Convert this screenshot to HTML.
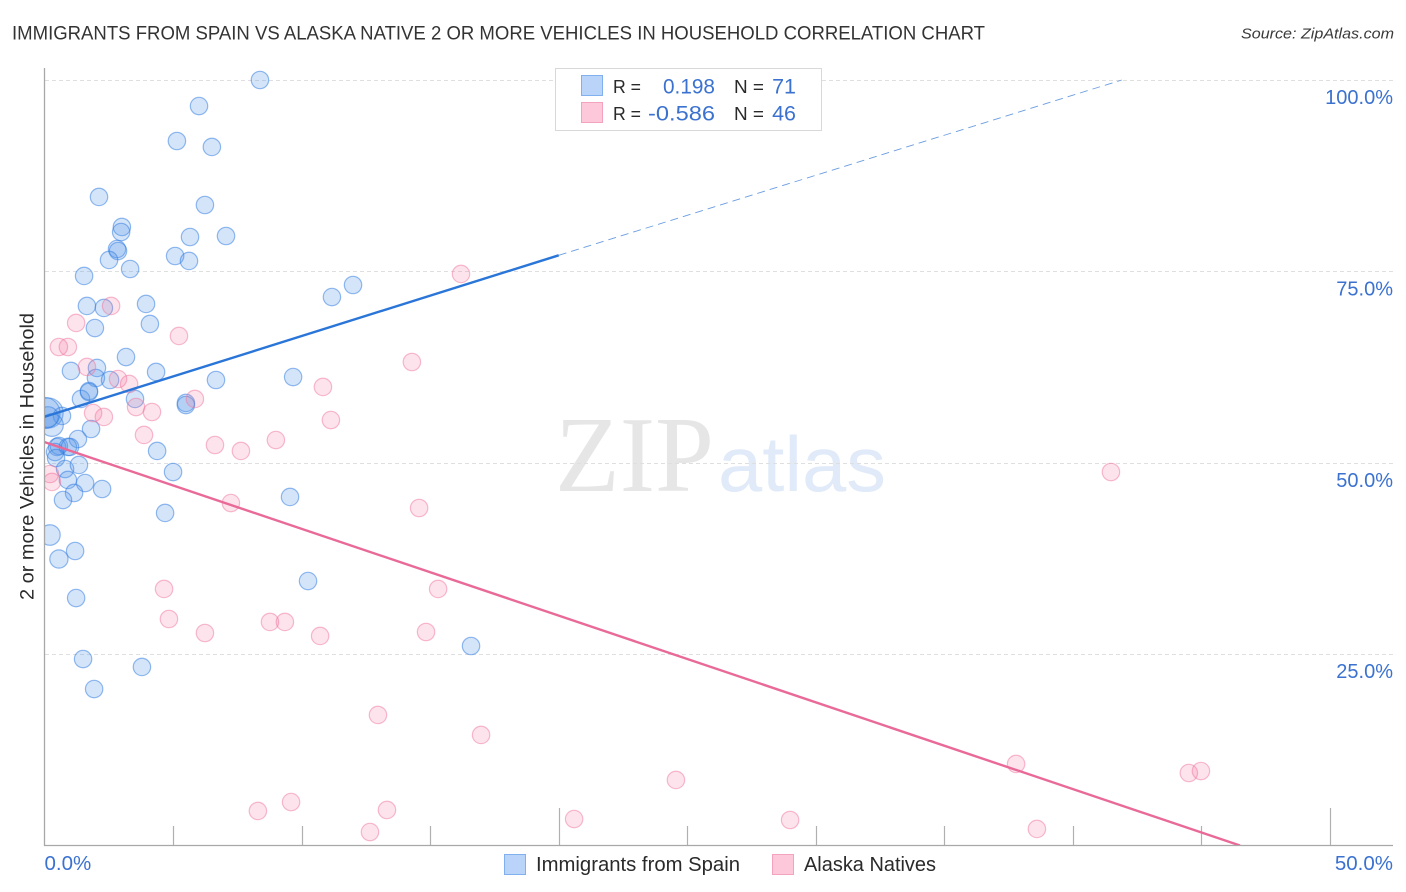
<!DOCTYPE html>
<html lang="en">
<head>
<meta charset="utf-8">
<title>Immigrants from Spain vs Alaska Native 2 or more Vehicles in Household Correlation Chart</title>
<style>
html,body{margin:0;padding:0;background:#fff;width:1406px;height:892px;overflow:hidden}
svg{display:block;font-family:"Liberation Sans",sans-serif}
</style>
</head>
<body>
<svg id="chart" width="1406" height="892" viewBox="0 0 1406 892" xmlns="http://www.w3.org/2000/svg">
  <defs>
    <clipPath id="plot-clip"><rect x="45" y="60" width="1350" height="785"></rect></clipPath>
  </defs>
  <rect width="1406" height="892" fill="#ffffff"></rect>
  <text x="12" y="39.5" font-size="19" fill="#333333" textLength="973" lengthAdjust="spacingAndGlyphs">IMMIGRANTS FROM SPAIN VS ALASKA NATIVE 2 OR MORE VEHICLES IN HOUSEHOLD CORRELATION CHART</text>
  <text x="1241" y="38.5" font-size="15" font-style="italic" fill="#3a3a3a" textLength="153" lengthAdjust="spacingAndGlyphs">Source: ZipAtlas.com</text>

  <g>
    <text x="555" y="491" font-family="'Liberation Serif',serif" font-size="108" fill="#e6e6e6" textLength="159" lengthAdjust="spacingAndGlyphs">ZIP</text>
    <text x="718" y="491" font-size="78" fill="#e0eaf8" textLength="168" lengthAdjust="spacingAndGlyphs">atlas</text>
  </g>

  <g id="grid"></g>
  <g id="axes"></g>
  <g id="ylabels"></g>
  <g id="xlabels"></g>
  <g id="points-blue" clip-path="url(#plot-clip)"></g>
  <g id="points-pink" clip-path="url(#plot-clip)"></g>
  <g id="trends" clip-path="url(#plot-clip)"></g>

  <text transform="translate(33.5,600) rotate(-90)" font-size="19.5" fill="#2a2a2a" textLength="287" lengthAdjust="spacingAndGlyphs">2 or more Vehicles in Household</text>

  <g>
    <rect x="555.5" y="68.5" width="266" height="62" fill="#ffffff" stroke="#d8d8d8" stroke-width="1"></rect>
    <rect x="581.5" y="75.5" width="21" height="20" fill="#b9d4f8" stroke="#80b0ee"></rect>
    <rect x="581.5" y="102.5" width="21" height="20" fill="#fdc9da" stroke="#f3a3be"></rect>
    <text x="613" y="93" font-size="18.5" fill="#2a2a2a" textLength="28" lengthAdjust="spacingAndGlyphs">R =</text>
    <text x="663" y="93.5" font-size="21.5" fill="#3b72d0" textLength="52" lengthAdjust="spacingAndGlyphs">0.198</text>
    <text x="734" y="93" font-size="18.5" fill="#2a2a2a" textLength="30" lengthAdjust="spacingAndGlyphs">N =</text>
    <text x="796" y="93.5" font-size="21.5" fill="#3b72d0" text-anchor="end">71</text>
    <text x="613" y="120" font-size="18.5" fill="#2a2a2a" textLength="28" lengthAdjust="spacingAndGlyphs">R =</text>
    <text x="648" y="120.5" font-size="21.5" fill="#3b72d0" textLength="67" lengthAdjust="spacingAndGlyphs">-0.586</text>
    <text x="734" y="120" font-size="18.5" fill="#2a2a2a" textLength="30" lengthAdjust="spacingAndGlyphs">N =</text>
    <text x="796" y="120.5" font-size="21.5" fill="#3b72d0" text-anchor="end">46</text>
  </g>

  <g>
    <rect x="504.5" y="854.5" width="21" height="20" fill="#b9d4f8" stroke="#80b0ee"></rect>
    <text x="536" y="871" font-size="20" fill="#2a2a2a" textLength="204" lengthAdjust="spacingAndGlyphs">Immigrants from Spain</text>
    <rect x="772.5" y="854.5" width="21" height="20" fill="#fdc9da" stroke="#f3a3be"></rect>
    <text x="804" y="871" font-size="20" fill="#2a2a2a" textLength="132" lengthAdjust="spacingAndGlyphs">Alaska Natives</text>
  </g>
</svg>
<script>
const yTicks = [25, 50, 75, 100];
const yTickLabels = ["25.0%", "50.0%", "75.0%", "100.0%"];
const xTicks = [0, 5, 10, 15, 20, 25, 30, 35, 40, 45, 50];
const xMajorTicks = [20, 50];
const xEndTicks = [0, 50];
const xEndLabels = ["0.0%", "50.0%"];

const blueX = [8.38,6.01,5.15,6.51,2.12,6.24,3.01,2.98,2.82,2.86,2.51,3.33,5.08,5.66,7.06,5.62,1.54,1.65,2.31,3.95,4.10,1.96,3.17,12.00,11.18,1.03,2.04,2.00,2.55,4.34,6.67,9.67,1.42,1.73,1.73,3.52,5.50,5.50,0.14,0.68,0.29,1.81,1.30,0.49,0.56,0.91,0.99,0.41,0.45,0.80,1.34,0.91,1.58,2.24,1.15,0.72,4.38,5.00,4.69,9.55,0.21,1.19,0.56,1.23,1.50,3.79,1.93,10.25,16.59,0.00,0.14];
const blueY = [100.0,96.60,92.03,91.25,84.72,83.67,80.80,80.14,77.92,77.66,76.49,75.31,77.01,79.49,79.62,76.36,74.40,70.48,70.22,70.74,68.13,67.60,63.81,73.22,71.65,61.99,62.38,61.07,60.81,61.86,60.81,61.20,58.33,59.37,59.24,58.33,57.81,57.54,56.50,56.11,54.93,54.41,53.10,52.06,52.19,52.06,52.06,51.40,50.62,49.18,49.71,47.75,47.35,46.57,46.05,45.13,51.54,48.79,43.44,45.53,40.56,38.47,37.43,32.33,24.36,23.32,20.44,34.55,26.06,56.50,55.98];
const blueWeight = [1,1,1,1,1,1,1,1,1,1,1,1,1,1,1,1,1,1,1,1,1,1,1,1,1,1,1,1,1,1,1,1,1,1,1,1,1,1,3,1,1.7,1,1,1,1,1,1,1,1,1,1,1,1,1,1,1,1,1,1,1,1.4,1,1.1,1,1,1,1,1,1,3.2,1.4];

const pinkX = [2.59,1.23,5.23,0.56,0.91,1.65,2.86,3.29,5.85,3.56,4.18,1.89,2.31,3.87,6.63,7.64,9.00,0.21,0.29,7.25,4.65,4.84,8.77,9.35,6.24,16.20,14.29,10.83,11.14,14.57,15.31,14.84,10.72,12.97,16.98,24.56,20.60,29.00,8.30,9.59,13.32,12.66,37.79,44.51,44.98,38.60,41.48];
const pinkY = [70.48,68.26,66.56,65.12,65.12,62.51,60.94,60.29,58.33,57.28,56.63,56.50,55.98,53.63,52.32,51.54,52.97,48.53,47.49,44.74,33.51,29.59,29.20,29.20,27.76,74.66,63.16,59.90,55.58,44.09,33.51,27.89,27.37,17.05,14.44,8.56,3.46,3.33,4.51,5.68,4.64,1.76,10.65,9.47,9.73,2.16,48.79];

const blueTrendX = [0, 20];
const blueTrendY = [56, 77.1];
const blueProjectionX = [20, 41.9];
const blueProjectionY = [77.1, 100];
const pinkTrendX = [0, 46.5];
const pinkTrendY = [52.7, 0];

const NS = "http://www.w3.org/2000/svg";
function xScale(v) { return 44.5 + v * 25.71; }
function yScale(v) { return 845.5 - v * 7.655; }
function radius(w) { return 8.7 * Math.sqrt(w); }
function make(tag, attrs, parent) {
  const el = document.createElementNS(NS, tag);
  for (const k in attrs) el.setAttribute(k, attrs[k]);
  parent.appendChild(el);
  return el;
}

const grid = document.getElementById("grid");
yTicks.forEach(function (t) {
  const y = Math.round(yScale(t)) + 0.5;
  const line = make("line", {x1: 45, x2: 1393, y1: y, y2: y, stroke: "#dfdfdf", "stroke-width": 1, "stroke-dasharray": "4 3"}, grid);
  
  
});

const axes = document.getElementById("axes");
const yAxis = make("line", {x1: 44.5, x2: 44.5, y1: 68, y2: 846, stroke: "#a8a8a8", "stroke-width": 1.3}, axes);


const xAxis = make("line", {x1: 44, x2: 1393, y1: 845.5, y2: 845.5, stroke: "#a8a8a8", "stroke-width": 1.3}, axes);


xTicks.forEach(function (t) {
  if (t === 0) return;
  const x = Math.round(xScale(t)) + 0.5;
  const top = xMajorTicks.indexOf(t) >= 0 ? 808 : 826;
  const tick = make("line", {x1: x, x2: x, y1: top, y2: 845, stroke: "#b0b0b0", "stroke-width": 1.2}, axes);
  
  
});

const ylabels = document.getElementById("ylabels");
yTicks.forEach(function (t, i) {
  const label = make("text", {x: 1393, y: yScale(t) + 24, "text-anchor": "end", "font-size": 20, fill: "#3b72d0"}, ylabels);
  label.textContent = yTickLabels[i];
  
  
});

const xlabels = document.getElementById("xlabels");
xEndTicks.forEach(function (t, i) {
  const label = make("text", {x: i === 0 ? xScale(t) : 1393, y: 870, "text-anchor": i === 0 ? "start" : "end", "font-size": 20.5, fill: "#3b72d0"}, xlabels);
  label.textContent = xEndLabels[i];
  
  
});

const blueGroup = document.getElementById("points-blue");
blueX.forEach(function (v, i) {
  const c = make("circle", {cx: xScale(v), cy: yScale(blueY[i]), r: radius(blueWeight[i]), fill: "rgba(85,148,232,0.25)", stroke: "rgba(50,125,225,0.52)", "stroke-width": 1.2}, blueGroup);
  
  
});

const pinkGroup = document.getElementById("points-pink");
pinkX.forEach(function (v, i) {
  const c = make("circle", {cx: xScale(v), cy: yScale(pinkY[i]), r: 8.7, fill: "rgba(243,115,155,0.2)", stroke: "rgba(240,120,160,0.5)", "stroke-width": 1.2}, pinkGroup);
  
  
});

const trends = document.getElementById("trends");
const blueTrend = make("line", {x1: xScale(blueTrendX[0]), y1: yScale(blueTrendY[0]), x2: xScale(blueTrendX[1]), y2: yScale(blueTrendY[1]), stroke: "#2a75d8", "stroke-width": 2.4}, trends);


const blueProjection = make("line", {x1: xScale(blueProjectionX[0]), y1: yScale(blueProjectionY[0]), x2: xScale(blueProjectionX[1]), y2: yScale(blueProjectionY[1]), stroke: "#6a9de0", "stroke-width": 0.9, "stroke-dasharray": "8 5"}, trends);


const pinkTrend = make("line", {x1: xScale(pinkTrendX[0]), y1: yScale(pinkTrendY[0]), x2: xScale(pinkTrendX[1]), y2: yScale(pinkTrendY[1]), stroke: "#e96a98", "stroke-width": 2.4}, trends);


</script>
</body>
</html>
